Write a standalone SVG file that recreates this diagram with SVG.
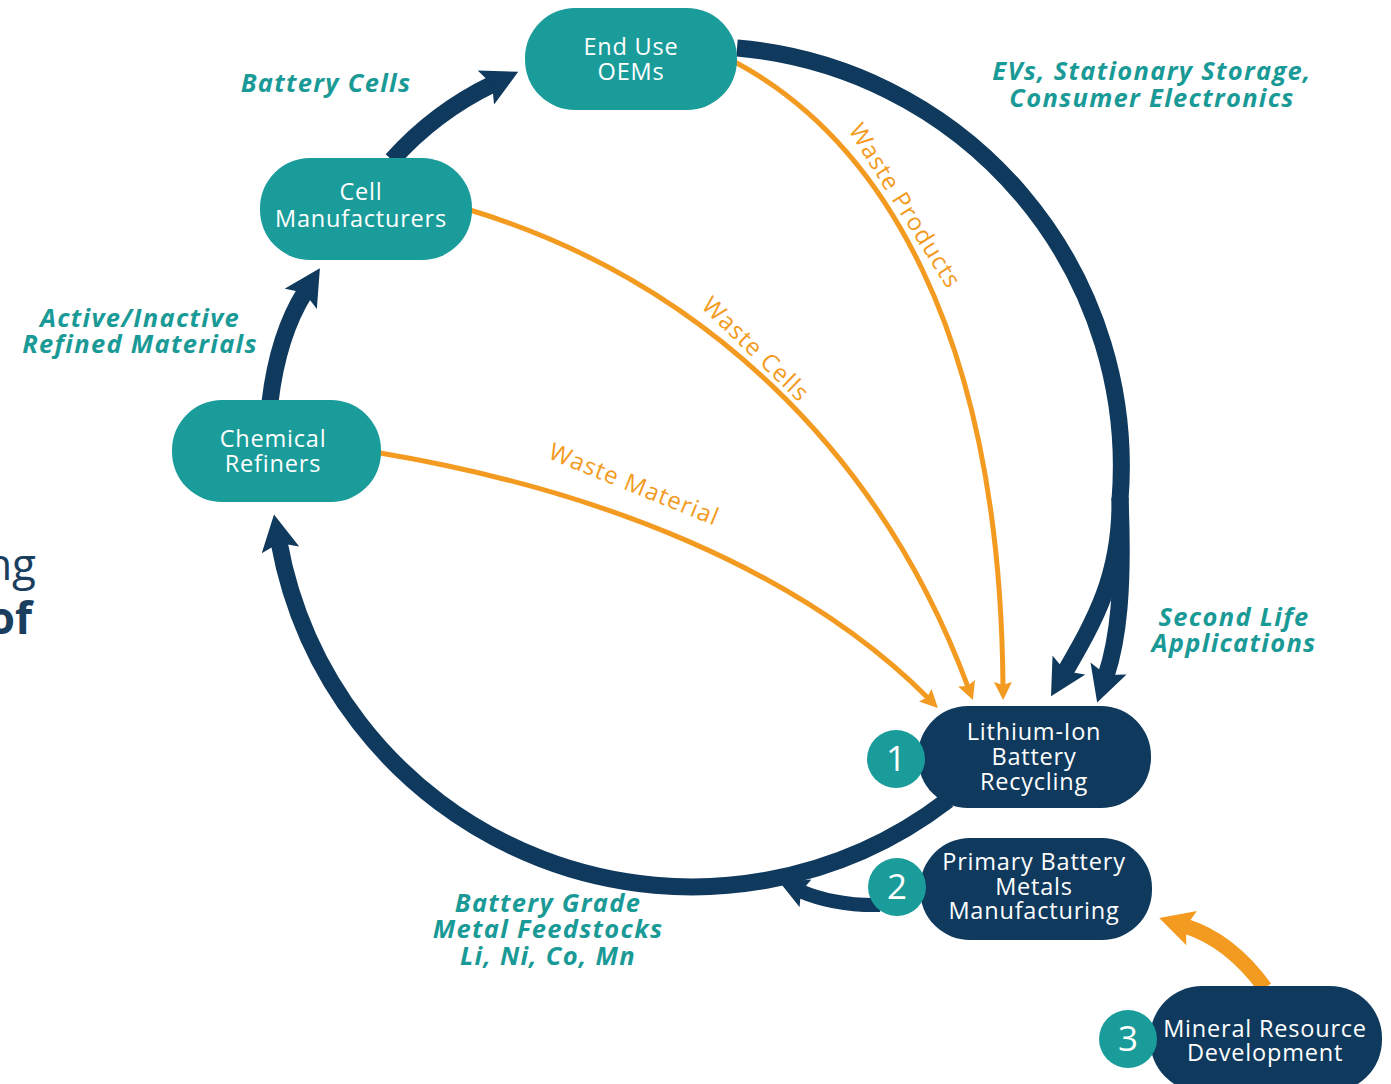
<svg xmlns="http://www.w3.org/2000/svg" width="1391" height="1084" viewBox="0 0 1391 1084">
<style>
.teal{fill:#1a9c9a}
.navy{fill:#0f3a5e}
.nt{fill:#fff;font-family:"Open Sans","Noto Sans",sans-serif;font-size:23.5px;letter-spacing:0.8px;text-anchor:middle}
.num{fill:#fff;font-family:"Open Sans","Noto Sans",sans-serif;font-size:35px;text-anchor:middle}
.lbl{fill:#1a9a96;font-family:"Open Sans","Noto Sans",sans-serif;font-size:25.5px;letter-spacing:1.3px;font-weight:700;font-style:italic;text-anchor:middle}
.wl{fill:#f39a21;font-family:"Open Sans","Noto Sans",sans-serif;font-size:24px;letter-spacing:1px;text-anchor:middle}
.cn{fill:none;stroke:#0f3a5e;stroke-width:17}
.co{fill:none;stroke:#f39a21;stroke-width:5}
.bg{fill:#1a3e5e;font-family:"Open Sans","Noto Sans",sans-serif;font-size:44px}
</style>
<defs>
<marker id="an" markerUnits="userSpaceOnUse" viewBox="0 0 36 38" markerWidth="36" markerHeight="38" refX="8" refY="19" orient="auto"><path d="M0,0 L36,19 L0,38 L7,19 Z" fill="#0f3a5e"/></marker>
<marker id="ans" markerUnits="userSpaceOnUse" viewBox="0 0 28 30" markerWidth="28" markerHeight="30" refX="6" refY="15" orient="auto"><path d="M0,0 L28,15 L0,30 L5,15 Z" fill="#0f3a5e"/></marker>
<marker id="ao" markerUnits="userSpaceOnUse" viewBox="0 0 18 18" markerWidth="18" markerHeight="18" refX="4" refY="9" orient="auto"><path d="M0,0 L18,9 L0,18 L3,9 Z" fill="#f39a21"/></marker>
<marker id="aol" markerUnits="userSpaceOnUse" viewBox="0 0 34 36" markerWidth="34" markerHeight="36" refX="7" refY="18" orient="auto"><path d="M0,0 L34,18 L0,36 L6,18 Z" fill="#f39a21"/></marker>
</defs>
<rect width="1391" height="1084" fill="#fff"/>
<text class="bg" x="36" y="580" text-anchor="end">ng</text>
<text class="bg" x="32" y="634" text-anchor="end" font-weight="700">of</text>
<g id="connectors">
<path class="co" d="M735 62 C880 140 1000 330 1003 686" marker-end="url(#ao)"/>
<path class="co" d="M470 210 C700 280 880 450 968 687" marker-end="url(#ao)"/>
<path class="co" d="M380 453 C600 490 800 570 928 698" marker-end="url(#ao)"/>
<path class="cn" d="M392 160 Q435 112 493 84" marker-end="url(#an)"/>
<path class="cn" d="M270 402 Q278 335 305 292" marker-end="url(#an)"/>
<path class="cn" d="M737 48 A420 420 0 0 1 1120 500"/>
<path class="cn" d="M1120 498 C1121 575 1095 620 1065 672" marker-end="url(#an)"/>
<path class="cn" d="M1120 498 C1124 590 1118 640 1106 676" marker-end="url(#an)"/>
<path class="cn" d="M948 800 A420 420 0 0 1 279 542" marker-end="url(#an)"/>
<path class="cn" style="stroke-width:14" d="M880 905 Q835 906 800 891" marker-end="url(#ans)"/>
<path fill="none" stroke="#f39a21" stroke-width="15" d="M1265 988 Q1230 940 1185 926" marker-end="url(#aol)"/>
<text class="wl" transform="translate(898 210) rotate(58)">Waste Products</text>
<text class="wl" transform="translate(750 355) rotate(44)">Waste Cells</text>
<text class="wl" transform="translate(631 492) rotate(22)">Waste Material</text>
</g>
<g id="labels">
<text class="lbl" x="326" y="92">Battery Cells</text>
<text class="lbl" x="1152" y="80">EVs, Stationary Storage,</text>
<text class="lbl" x="1152" y="107">Consumer Electronics</text>
<text class="lbl" x="140" y="327">Active/Inactive</text>
<text class="lbl" x="140" y="353">Refined Materials</text>
<text class="lbl" x="1234" y="626">Second Life</text>
<text class="lbl" x="1234" y="652">Applications</text>
<text class="lbl" x="548" y="912">Battery Grade</text>
<text class="lbl" x="548" y="938">Metal Feedstocks</text>
<text class="lbl" x="548" y="965">Li, Ni, Co, Mn</text>
</g>
<g id="end-use">
<rect class="teal" x="525" y="8" width="212" height="102" rx="50"/>
<text class="nt" x="631" y="55">End Use</text>
<text class="nt" x="631" y="80">OEMs</text>
</g>
<g id="cell-manufacturers">
<rect class="teal" x="260" y="158" width="212" height="102" rx="50"/>
<text class="nt" x="361" y="200">Cell</text>
<text class="nt" x="361" y="227">Manufacturers</text>
</g>
<g id="chemical-refiners">
<rect class="teal" x="172" y="400" width="209" height="102" rx="50"/>
<text class="nt" x="273" y="447">Chemical</text>
<text class="nt" x="273" y="472">Refiners</text>
</g>
<g id="recycling">
<rect class="navy" x="918" y="706" width="233" height="102" rx="50"/>
<text class="nt" x="1034" y="740">Lithium-Ion</text>
<text class="nt" x="1034" y="765">Battery</text>
<text class="nt" x="1034" y="790">Recycling</text>
<circle class="teal" cx="896" cy="759" r="29"/>
<text class="num" x="896" y="771">1</text>
</g>
<g id="primary">
<rect class="navy" x="920" y="838" width="232" height="102" rx="50"/>
<text class="nt" x="1034" y="870">Primary Battery</text>
<text class="nt" x="1034" y="895">Metals</text>
<text class="nt" x="1034" y="919">Manufacturing</text>
<circle class="teal" cx="897" cy="887" r="29"/>
<text class="num" x="897" y="899">2</text>
</g>
<g id="mineral">
<rect class="navy" x="1150" y="986" width="232" height="106" rx="52"/>
<text class="nt" x="1265" y="1037">Mineral Resource</text>
<text class="nt" x="1265" y="1061">Development</text>
<circle class="teal" cx="1128" cy="1039" r="29"/>
<text class="num" x="1128" y="1051">3</text>
</g>
</svg>
